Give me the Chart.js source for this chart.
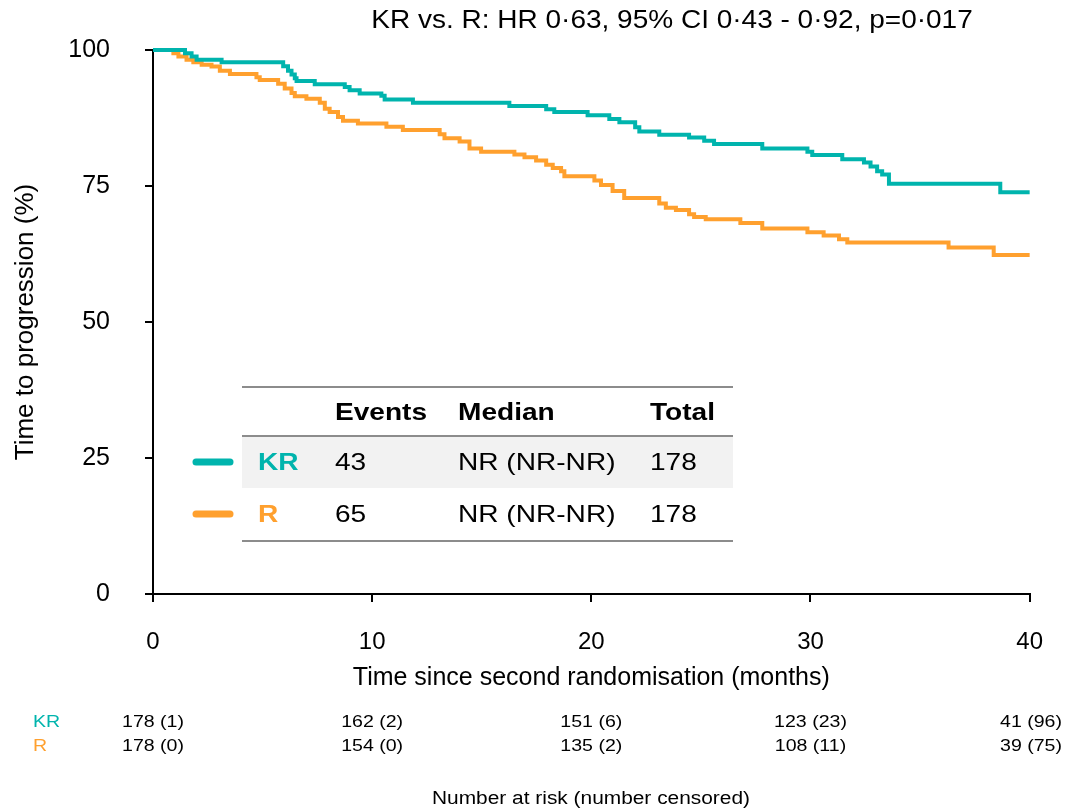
<!doctype html>
<html>

<head>
    <meta charset="utf-8" />
    <title>Time to progression, KR vs. R</title>
    <style>
        html,
        body {
            margin: 0px;
            padding: 0px;
            background-color: #ffffff;
        }

        .chart {
            width: 1069px;
            height: 811px;
        }
    </style>
</head>

<body>
    <div class="chart">
        <canvas id="chart_km" width="1069" height="811"></canvas>
    </div>

    <script src="https://cdn.jsdelivr.net/npm/chart.js@4.4.0/dist/chart.umd.min.js"></script>

    <script>
        // Kaplan-Meier steps (months, % free of progression)
        var krTimes = [0, 1.46, 1.76, 1.99, 3.13, 5.94, 6.16, 6.32, 6.47, 6.55, 7.38, 8.75, 8.97, 9.43, 10.42, 10.57, 11.86, 16.26, 17.94, 18.31, 19.83, 20.82, 21.28, 22.0, 22.19, 23.1, 24.46, 25.15, 25.6, 27.8, 29.86, 30.08, 31.45, 32.44, 32.74, 33.04, 33.27, 33.58, 38.66, 40];
        var krSurv = [100, 99.4, 98.8, 98.2, 97.75, 97.0, 96.2, 95.5, 94.8, 94.3, 93.7, 93.2, 92.6, 92.0, 91.6, 90.9, 90.3, 89.7, 89.1, 88.6, 88.0, 87.3, 86.7, 85.8, 85.0, 84.4, 83.9, 83.3, 82.7, 81.9, 81.3, 80.7, 79.9, 79.3, 78.6, 77.7, 77.1, 75.4, 73.85, 73.85];

        var rTimes = [0, 0.93, 1.16, 1.53, 1.84, 2.22, 2.67, 3.05, 3.51, 4.72, 4.87, 5.71, 6.01, 6.32, 6.47, 7.0, 7.61, 7.84, 8.06, 8.44, 8.67, 9.35, 10.65, 11.4, 13.08, 13.3, 13.99, 14.44, 14.97, 16.49, 16.95, 17.48, 17.94, 18.24, 18.62, 18.77, 20.14, 20.44, 20.97, 21.5, 23.1, 23.4, 23.86, 24.46, 24.69, 25.22, 26.8, 27.8, 29.86, 30.6, 31.3, 31.68, 36.3, 38.36, 40];
        var rSurv = [100, 99.4, 98.8, 98.2, 97.75, 97.3, 96.96, 96.2, 95.6, 95.0, 94.5, 93.8, 92.9, 92.1, 91.5, 91.06, 90.3, 89.2, 88.6, 87.7, 87.0, 86.5, 85.9, 85.3, 84.5, 83.8, 83.2, 81.9, 81.3, 80.8, 80.3, 79.7, 78.9, 78.3, 77.7, 76.8, 76.0, 75.2, 74.1, 72.8, 71.8, 71.0, 70.6, 69.8, 69.3, 68.9, 68.2, 67.2, 66.5, 65.9, 65.2, 64.6, 63.7, 62.3, 62.3];

        var xTicks = [0, 10, 20, 30, 40];
        var yTicks = [0, 25, 50, 75, 100];

        var riskKR = ['178 (1)', '162 (2)', '151 (6)', '123 (23)', '41 (96)'];
        var riskR = ['178 (0)', '154 (0)', '135 (2)', '108 (11)', '39 (75)'];

        var tableHead = ['Events', 'Median', 'Total'];
        var tableKR = ['43', 'NR (NR-NR)', '178'];
        var tableR = ['65', 'NR (NR-NR)', '178'];

        var titleText = 'KR vs. R: HR 0\u00b763, 95% CI 0\u00b743 - 0\u00b792, p=0\u00b7017';

        var teal = '#00b4ad';
        var orange = '#ffa02e';
        var font = "'Liberation Sans', Arial, sans-serif";

        function toPoints(times, surv) {
            return times.map(function (t, i) { return { x: t, y: surv[i] }; });
        }

        // the original figure is a little wider than tall, so its text is stretched sideways
        function wideText(ctx, text, x, y, sx, align) {
            ctx.save();
            ctx.translate(x, y);
            ctx.scale(sx, 1);
            ctx.textAlign = align;
            ctx.fillText(text, 0, 0);
            ctx.restore();
        }

        var extras = {
            id: 'extras',
            afterDraw: function (chart) {
                var ctx = chart.ctx;
                var xs = chart.scales.x;
                var area = chart.chartArea;
                ctx.save();
                ctx.textBaseline = 'middle';

                // title
                ctx.fillStyle = '#000';
                ctx.font = '25px ' + font;
                wideText(ctx, titleText, 672, 21, 1.12, 'center');

                // summary table inside the plot
                var left = area.left + 89, right = area.left + 580;
                var cols = [area.left + 182, area.left + 305, area.left + 497];
                ctx.fillStyle = '#f2f2f2';
                ctx.fillRect(left, 436, right - left, 52);
                ctx.strokeStyle = '#8c8c8c';
                ctx.lineWidth = 2;
                [387, 436, 541].forEach(function (y) {
                    ctx.beginPath();
                    ctx.moveTo(left, y);
                    ctx.lineTo(right, y);
                    ctx.stroke();
                });

                ctx.fillStyle = '#000';
                ctx.font = 'bold 24px ' + font;
                tableHead.forEach(function (h, i) { wideText(ctx, h, cols[i], 413, 1.17, 'left'); });

                var rows = [
                    { name: 'KR', color: teal, cells: tableKR, y: 462 },
                    { name: 'R', color: orange, cells: tableR, y: 514 }
                ];
                rows.forEach(function (r) {
                    ctx.strokeStyle = r.color;
                    ctx.lineWidth = 7;
                    ctx.lineCap = 'round';
                    ctx.beginPath();
                    ctx.moveTo(area.left + 43, r.y);
                    ctx.lineTo(area.left + 77, r.y);
                    ctx.stroke();

                    ctx.fillStyle = r.color;
                    ctx.font = 'bold 24px ' + font;
                    wideText(ctx, r.name, area.left + 105, r.y + 1, 1.17, 'left');
                    ctx.fillStyle = '#000';
                    ctx.font = '24px ' + font;
                    r.cells.forEach(function (c, i) { wideText(ctx, c, cols[i], r.y + 1, 1.17, 'left'); });
                });

                // number at risk
                ctx.font = '17px ' + font;
                ctx.fillStyle = teal;
                wideText(ctx, 'KR', 33, 722, 1.15, 'left');
                ctx.fillStyle = orange;
                wideText(ctx, 'R', 33, 746, 1.15, 'left');
                ctx.fillStyle = '#000';
                xTicks.forEach(function (t, i) {
                    var px = xs.getPixelForValue(t);
                    var align = 'center';
                    if (i === xTicks.length - 1) {
                        align = 'right';
                        px = 1062;
                    }
                    wideText(ctx, riskKR[i], px, 722, 1.15, align);
                    wideText(ctx, riskR[i], px, 746, 1.15, align);
                });
                ctx.font = '18px ' + font;
                wideText(ctx, 'Number at risk (number censored)', 591, 799, 1.16, 'center');

                ctx.restore();
            }
        };

        var ctx_km = document.getElementById('chart_km').getContext('2d');
        var chart_km = new Chart(ctx_km, {
            type: 'line',
            data: {
                datasets: [
                    {
                        label: 'KR',
                        data: toPoints(krTimes, krSurv),
                        borderColor: teal,
                        backgroundColor: 'transparent',
                        borderWidth: 4,
                        pointRadius: 0,
                        stepped: 'before',
                        clip: 6
                    },
                    {
                        label: 'R',
                        data: toPoints(rTimes, rSurv),
                        borderColor: orange,
                        backgroundColor: 'transparent',
                        borderWidth: 4,
                        pointRadius: 0,
                        stepped: 'before',
                        clip: 6
                    }
                ]
            },
            options: {
                animation: false,
                responsive: false,
                devicePixelRatio: 1,
                layout: { padding: { top: 46, right: 38, left: 0, bottom: 0 } },
                plugins: {
                    legend: { display: false },
                    tooltip: { enabled: false }
                },
                scales: {
                    x: {
                        type: 'linear',
                        min: 0,
                        max: 40,
                        afterBuildTicks: function (s) { s.ticks = xTicks.map(function (v) { return { value: v }; }); },
                        afterFit: function (s) { s.height = 217; },
                        ticks: { color: '#000', font: { family: font, size: 24 }, padding: 26, maxRotation: 0 },
                        grid: { drawOnChartArea: false, drawTicks: true, tickLength: 8, color: '#000', lineWidth: 2 },
                        border: { display: true, color: '#000', width: 2 },
                        title: {
                            display: true,
                            text: 'Time since second randomisation (months)',
                            color: '#000',
                            font: { family: font, size: 25 },
                            padding: { top: 0, bottom: 118 }
                        }
                    },
                    y: {
                        min: 0,
                        max: 100,
                        afterBuildTicks: function (s) { s.ticks = yTicks.map(function (v) { return { value: v }; }); },
                        afterFit: function (s) { s.width = 153; },
                        ticks: { color: '#000', font: { family: font, size: 25 }, padding: 35 },
                        grid: { drawOnChartArea: false, drawTicks: true, tickLength: 8, color: '#000', lineWidth: 2 },
                        border: { display: true, color: '#000', width: 2 },
                        title: {
                            display: true,
                            text: 'Time to progression (%)',
                            color: '#000',
                            font: { family: font, size: 26 },
                            padding: { top: 10, bottom: 0 }
                        }
                    }
                }
            },
            plugins: [extras]
        });
    </script>
</body>

</html>
